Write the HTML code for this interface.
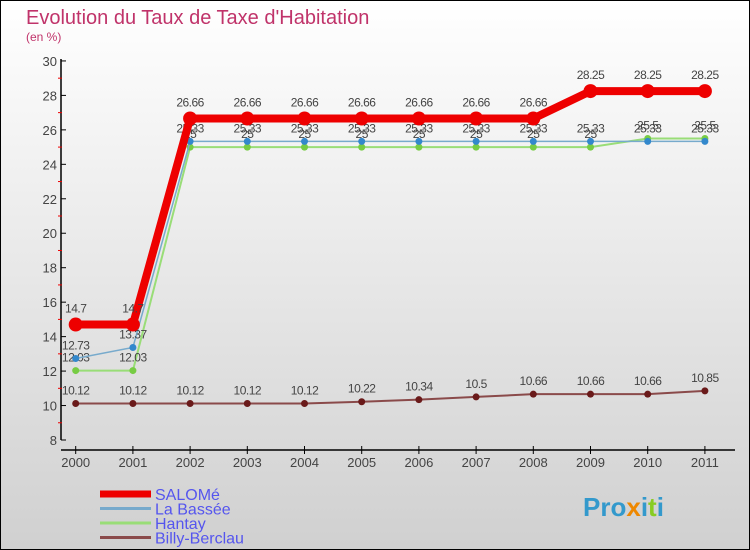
<!DOCTYPE html>
<html><head><meta charset="utf-8"><style>
body{margin:0;width:750px;height:550px;overflow:hidden;font-family:"Liberation Sans",sans-serif}
#wrap{position:absolute;left:0;top:0;width:748px;height:548px;border:1px solid #000;background:linear-gradient(#fff,#d0d0d0)}
</style></head><body>
<div id="wrap">
<svg id="chart" width="750" height="550" style="position:absolute;left:-1px;top:-1px"></svg>
</div>
<script>
const years=['2000','2001','2002','2003','2004','2005','2006','2007','2008','2009','2010','2011'];
const salome=[14.7,14.7,26.66,26.66,26.66,26.66,26.66,26.66,26.66,28.25,28.25,28.25];
const labassee=[12.73,13.37,25.33,25.33,25.33,25.33,25.33,25.33,25.33,25.33,25.33,25.33];
const hantay=[12.03,12.03,25,25,25,25,25,25,25,25,25.5,25.5];
const billy=[10.12,10.12,10.12,10.12,10.12,10.22,10.34,10.5,10.66,10.66,10.66,10.85];
const yTicks=[8,10,12,14,16,18,20,22,24,26,28,30];
const names=['SALOMé','La Bassée','Hantay','Billy-Berclau'];
const NS='http://www.w3.org/2000/svg';
const svg=document.getElementById('chart');
function x(i){return 75.7+i*57.2;}
function y(v){return 440-(v-8)*17.23;}
function el(t,a,p){const e=document.createElementNS(NS,t);for(const k in a)e.setAttribute(k,a[k]);(p||svg).appendChild(e);return e;}
function txt(s,a){const e=el('text',a);e.textContent=s;return e;}
let t=txt('Evolution du Taux de Taxe d\'Habitation',{x:26,y:24,'font-size':20,fill:'#c0336a'});


t=txt('(en %)',{x:26,y:41,'font-size':12,fill:'#c0336a'});


let a=el('line',{x1:61,y1:59,x2:61,y2:440,stroke:'#000','stroke-width':1.5});


a=el('line',{x1:61,y1:450,x2:735,y2:450,stroke:'#000','stroke-width':1.5});


yTicks.forEach((v,i)=>{
  el('line',{x1:61,y1:y(v),x2:66,y2:y(v),stroke:'#000'});
  if(i<yTicks.length-1)el('line',{x1:58,y1:y(v+1),x2:62,y2:y(v+1),stroke:'#e00'});
  const l=txt(String(v),{x:57,y:y(v)+5,'font-size':13,fill:'#444','text-anchor':'end'});
  
  
});
years.forEach((yr,i)=>{
  el('line',{x1:x(i),y1:446,x2:x(i),y2:454,stroke:'#000'});
  const l=txt(yr,{x:x(i),y:467,'font-size':13,fill:'#444','text-anchor':'middle'});
  
  
});
const series=[
 {d:billy,c:'#8a4a4a',dot:'#6a1a1a',w:2,r:3.5,name:'billy-berclau'},
 {d:hantay,c:'#99dd77',dot:'#77cc44',w:2,r:3.5,name:'hantay'},
 {d:labassee,c:'#77aacc',dot:'#3388cc',w:1.5,r:3.5,name:'la-bassee'},
 {d:salome,c:'#ee0000',dot:'#ee0000',w:8,r:7,name:'salome'}];
series.forEach(s=>{
  const g=el('g',{});
  
  
  el('polyline',{points:s.d.map((v,i)=>x(i)+','+y(v)).join(' '),fill:'none',stroke:s.c,'stroke-width':s.w},g);
  s.d.forEach((v,i)=>{
    const p=el('circle',{cx:x(i),cy:y(v),r:s.r,fill:s.dot},g);
    
    
    const l=txt(String(v),{x:x(i),y:y(v)-(s.w>5?12:9),'font-size':12,fill:'#444','text-anchor':'middle','letter-spacing':'-0.5'});
    
    
  });
});
const lc=['#ee0000','#77aacc','#99dd77','#8a4a4a'];const lw=[7,3,3,3];
names.forEach((n,i)=>{
  const yy=494+i*14.5;
  const g=el('g',{});
  
  
  el('line',{x1:100,y1:yy,x2:151,y2:yy,stroke:lc[i],'stroke-width':lw[i]},g);
  const l=el('text',{x:155,y:yy+6,'font-size':16,fill:'#5555ee'},g);l.textContent=n;
});
const lg=el('text',{x:583,y:516,'font-size':26,'font-weight':'bold'});


[['Pro','#3399cc'],['x','#ee8800'],['i','#3399cc'],['t','#88cc22'],['i','#3399cc']].forEach(p=>{const s=el('tspan',{fill:p[1]},lg);s.textContent=p[0];});
</script>
</body></html>
